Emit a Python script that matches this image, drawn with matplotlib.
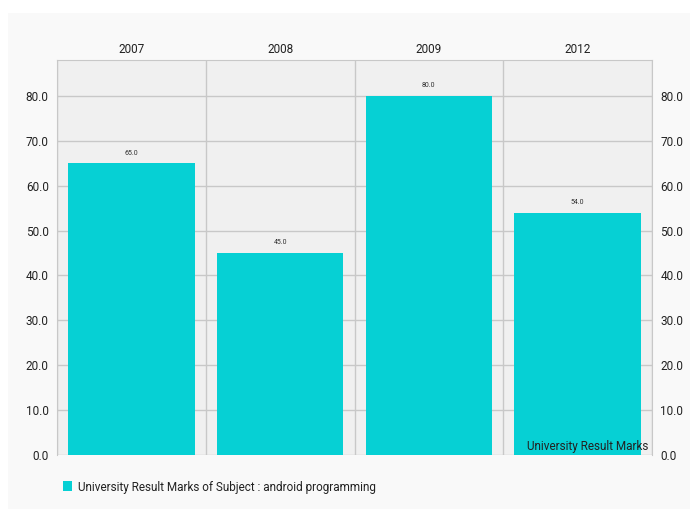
import matplotlib
matplotlib.use("Agg")
import matplotlib.pyplot as plt
from matplotlib.patches import Rectangle

years = ["2007", "2008", "2009", "2012"]
marks = [65.0, 45.0, 80.0, 54.0]
y_ticks = [0, 10, 20, 30, 40, 50, 60, 70, 80]
dataset_label = "University Result Marks of Subject : android programming"
description = "University Result Marks"

BAR_COLOR = "#06d0d4"
GRID_COLOR = "#c8c8c8"
TEXT_COLOR = "#222222"
FS = 8.5

plt.rcParams['font.family'] = ['Roboto', 'DejaVu Sans']

W, H = 694, 517
fig = plt.figure(figsize=(W / 100, H / 100), dpi=100)
fig.patch.set_facecolor("white")

# light panel behind the chart
bg = fig.add_axes([8 / W, 8 / H, 682 / W, 496 / H], zorder=0)
bg.set_facecolor("#f9f9f9")
bg.set_xticks([])
bg.set_yticks([])
for s in bg.spines.values():
    s.set_visible(False)

ax = fig.add_axes([57 / W, 1 - 455 / H, (652 - 57) / W, (455 - 60) / H], zorder=2)
ax.set_facecolor("#f0f0f0")

x = list(range(len(years)))
ax.bar(x, marks, width=0.85, color=BAR_COLOR, zorder=3)
for xi, v in zip(x, marks):
    ax.text(xi, v + 1.5, "%.1f" % v, ha="center", va="bottom", fontsize=5,
            color="#333333", zorder=4)

ax.set_xlim(-0.5, len(years) - 0.5)
ax.set_ylim(0, max(marks) * 1.1)

# vertical grid lines between the bars
for b in range(len(years) + 1):
    ax.axvline(b - 0.5, color=GRID_COLOR, lw=1, zorder=1)
for t in y_ticks:
    ax.axhline(t, color=GRID_COLOR, lw=1, zorder=1)

ax.set_xticks(x)
ax.set_xticklabels(years)
ax.xaxis.tick_top()
ax.set_yticks(y_ticks)
ax.set_yticklabels(["%.1f" % t for t in y_ticks])
ax.tick_params(axis="both", length=0, labelsize=FS, colors=TEXT_COLOR)
ax.tick_params(axis="x", pad=3)
ax.tick_params(axis="y", pad=6, labelright=True)

for side in ["left", "right", "top"]:
    ax.spines[side].set_color(GRID_COLOR)
ax.spines["bottom"].set_visible(False)

ax.text(0.994, 0.005, description, transform=ax.transAxes, ha="right",
        va="bottom", fontsize=FS, color=TEXT_COLOR, zorder=5)

# legend
fig.patches.append(Rectangle((63 / W, 1 - 491 / H), 9 / W, 10 / H,
                             transform=fig.transFigure, facecolor=BAR_COLOR,
                             edgecolor="none", zorder=5))
fig.text(78 / W, 1 - 487 / H, dataset_label, ha="left", va="center",
         fontsize=FS, color=TEXT_COLOR, zorder=5)

fig.savefig("out.png", dpi=100, facecolor=fig.get_facecolor())
